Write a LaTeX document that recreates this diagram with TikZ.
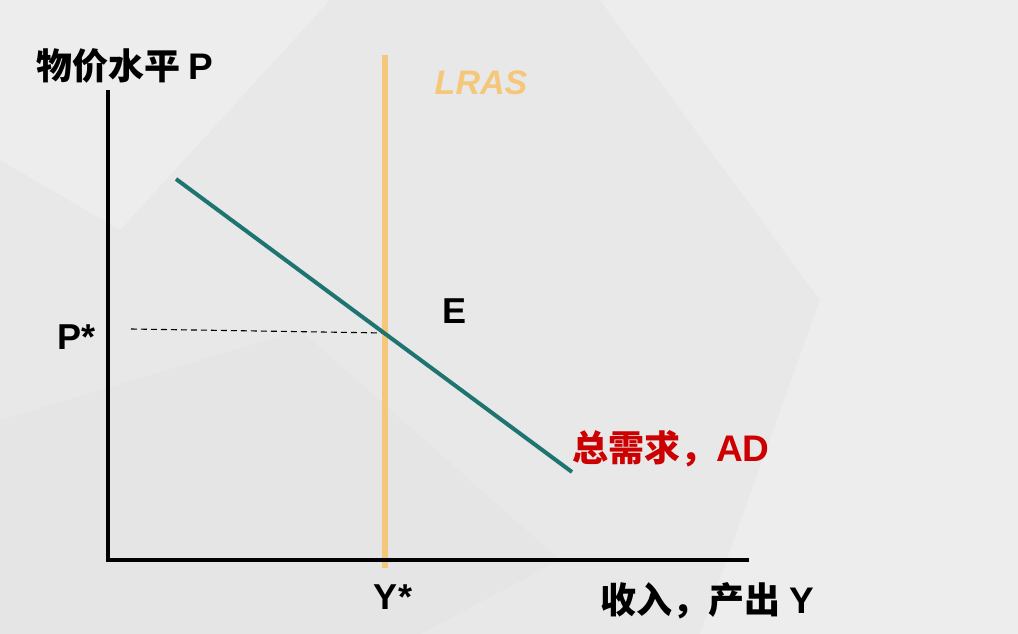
\documentclass[tikz,border=0pt]{standalone}
\usepackage{fontspec}
\setmainfont{Liberation Sans}
\newfontfamily\cjk{Noto Sans CJK SC}
\newfontfamily\lat{Liberation Sans}
\definecolor{bg}{HTML}{E8E8E8}
\definecolor{bglight}{HTML}{EDEDED}
\definecolor{bgdark}{HTML}{E5E5E5}
\definecolor{lras}{HTML}{F5C77A}
\definecolor{adcol}{HTML}{1E7470}
\definecolor{adred}{HTML}{CC0000}
\newcommand{\latin}[1]{{\fontsize{37}{39}\selectfont\lat\bfseries #1}}
\tikzset{
  axis/.style={line width=4pt, black},
  lbl/.style={font=\fontsize{36}{38}\selectfont\bfseries, text=black, inner sep=0pt},
  cjklbl/.style={font=\fontsize{36}{38}\selectfont\bfseries\cjk, text=black, inner sep=0pt},
}
\begin{document}
\begin{tikzpicture}[x=1pt,y=-1pt]
\useasboundingbox (0,0) rectangle (1018,634);
% background
\fill[bg] (0,0) rectangle (1018,634);
\fill[bglight] (600,0) -- (1018,0) -- (1018,420) -- (820,300) -- cycle;
\fill[bglight] (0,0) -- (330,0) -- (120,230) -- (0,160) -- cycle;
\fill[bgdark] (0,420) -- (300,330) -- (180,634) -- (0,634) -- cycle;
\fill[bglight] (820,300) -- (1018,420) -- (1018,634) -- (700,634) -- cycle;
\fill[bgdark] (300,330) -- (560,560) -- (420,634) -- (180,634) -- cycle;
% coordinates
\coordinate (O) at (108,560);
\coordinate (Ytop) at (108,90);
\coordinate (Xend) at (749,560);
\coordinate (Lt) at (385,55);
\coordinate (Lb) at (385,568);
\coordinate (ADs) at (176,179);
\coordinate (ADe) at (572,472);
\coordinate (Ps) at (131,329);
\coordinate (Pe) at (385,333);
% curves
\draw[line width=5.5pt, lras] (Lt) -- (Lb);
\draw[line width=1.1pt, black, dash pattern=on 6pt off 4pt] (Ps) -- (Pe);
\draw[line width=4pt, adcol] (ADs) -- (ADe);
\draw[axis] (Ytop) -- (O) -- (Xend);
% labels
\node[cjklbl, anchor=west] (ylab) at (36,66) {物价水平\ \latin{P}};
\node[lbl, anchor=east] (pstar) at (96,337) {P*};
\node[lbl] (E) at (455,311) {E};
\node[lbl] (ystar) at (393,597) {Y*};
\node[font=\fontsize{34}{36}\selectfont\bfseries\itshape, text=lras, inner sep=0pt] (lraslab) at (481,83) {LRAS};
\node[cjklbl, text=adred, anchor=west] (adlab) at (572,449) {总需求，\latin{AD}};
\node[cjklbl, anchor=east] (xlab) at (814,601) {收入，产出\ \latin{Y}};
\end{tikzpicture}
\end{document}
